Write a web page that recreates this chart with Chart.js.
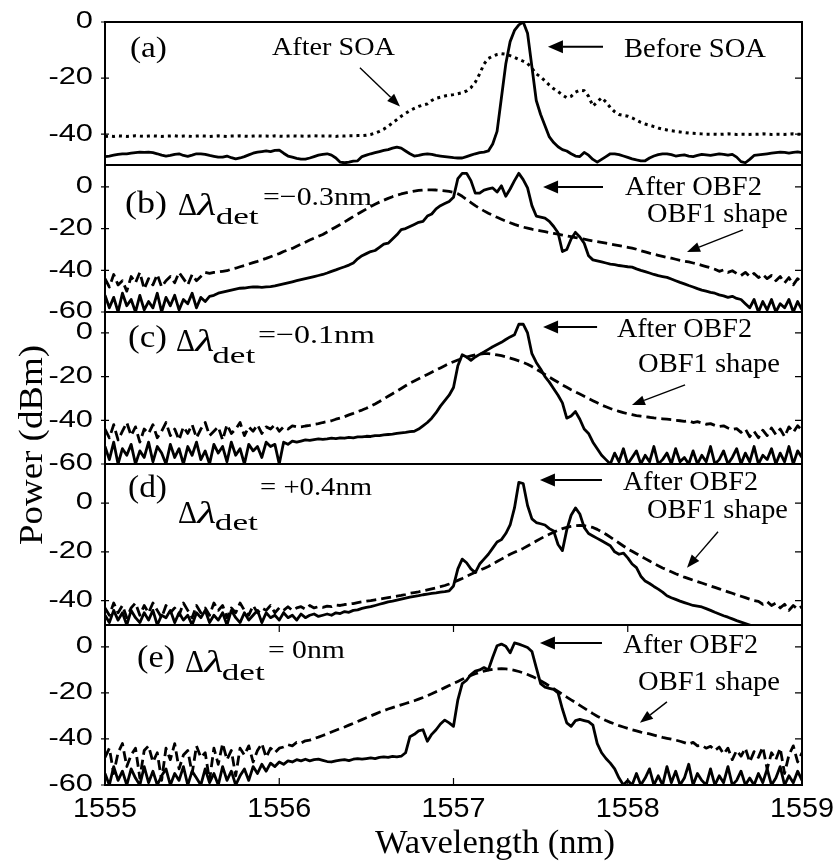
<!DOCTYPE html>
<html>
<head>
<meta charset="utf-8">
<title>Spectra after OBF2</title>
<script src="https://cdn.jsdelivr.net/npm/chart.js@4.4.1/dist/chart.umd.min.js"></script>
<style>
  html, body { margin: 0; padding: 0; background: #fff; }
</style>
</head>
<body>
<canvas id="spectra" width="837" height="863"></canvas>
<script>
// wavelength samples, 0.025 nm apart (1555 .. 1559 nm)
const wavelength = [];
for (let i = 0; i <= 160; i++) wavelength.push(+(1555 + i * 0.025).toFixed(3));

// (a) before / after SOA
const beforeSOA = [
  -48, -47.8, -47.5, -47.2, -47, -47, -46.8, -46.6, -46.4, -46.5,
  -46.4, -46.6, -47, -47.5, -47.8, -47.6, -47.2, -47, -47.6, -47.9,
  -47.5, -47, -47, -47.2, -47.6, -47.9, -48.2, -48.2, -47.8, -48.4,
  -48.8, -48.5, -48, -47.4, -46.8, -46.4, -46.2, -46, -46.2, -45.8,
  -45.7, -46.8, -47.8, -48.2, -48.6, -48.9, -48.9, -48.5, -48, -47.5,
  -47.2, -47, -47.5, -48.5, -50, -50.2, -50, -49.6, -49.5, -48,
  -47.5, -47, -46.6, -46.2, -45.8, -45.5, -45, -44.6, -45, -46,
  -47, -47.8, -47.6, -47.2, -47, -47.2, -47.6, -47.8, -48, -48.2,
  -48.4, -48.5, -48.5, -48, -47.5, -47, -46.6, -46.4, -46, -43.5,
  -39, -27, -15, -7, -3, -1, 0, -4, -16, -28,
  -33, -37, -41, -43, -44.5, -45.5, -46, -47, -47.8, -48,
  -46.5, -47.5, -49, -50, -49, -48, -47, -47, -47.3, -47.8,
  -48.3, -48.8, -49.2, -49.5, -49.5, -48.5, -47.8, -47.3, -47, -47,
  -47.3, -47.8, -47.6, -47.4, -47.8, -48, -47.6, -47.2, -47.4, -47.6,
  -47.3, -47, -47.2, -47.5, -47.2, -48.2, -49.8, -50.2, -49, -47.6,
  -47.4, -47.2, -47, -46.8, -46.6, -46.4, -46.5, -46.8, -46.5, -46.3, -46.6
];
const afterSOA = [
  -40.8, -40.7, -40.8, -40.6, -40.7, -40.8, -40.7, -40.6, -40.7, -40.8,
  -40.7, -40.6, -40.7, -40.8, -40.7, -40.7, -40.6, -40.8, -40.7, -40.7,
  -40.8, -40.7, -40.6, -40.7, -40.8, -40.7, -40.6, -40.7, -40.8, -40.7,
  -40.7, -40.6, -40.7, -40.8, -40.7, -40.6, -40.7, -40.7, -40.8, -40.6,
  -40.7, -40.8, -40.7, -40.6, -40.7, -40.7, -40.8, -40.7, -40.6, -40.7,
  -40.7, -40.6, -40.7, -40.8, -40.6, -40.7, -40.6, -40.6, -40.5, -40.5,
  -40.4, -40.1, -39.6, -39, -38.2, -37.2, -36, -34.8, -33.6, -32.6,
  -31.6, -30.8, -30.1, -29.6, -29.2, -28, -27.2, -26.8, -26.4, -26.1,
  -25.9, -25.6, -25.2, -24.6, -23.4, -21.5, -18.5, -15, -13, -12.2,
  -11.6, -11.3, -11.5, -12, -12.6, -13.3, -14, -14.8, -16.5, -18.5,
  -19.6, -21, -22.5, -23.8, -24.8, -26, -27, -26.5, -25, -24.3,
  -24.5, -26.5, -30, -28.5, -27, -28.5, -30.5, -32, -33, -33.3,
  -33.6, -34.2, -35, -35.8, -36.4, -36.8, -37.3, -37.8, -38.2, -38.5,
  -38.8, -39, -39.2, -39.4, -39.6, -39.7, -39.8, -39.9, -40, -40,
  -40, -40.1, -40, -39.9, -40, -40.1, -40, -40, -40.1, -40,
  -40, -39.9, -40, -40.1, -40, -40, -40.1, -40, -39.9, -40, -40
];

// (b) detuning -0.3 nm
const obf2B = [
  -52, -58, -53, -60, -51, -57, -54, -60, -52, -59,
  -55, -58, -51, -60, -53, -57, -52, -59, -54, -56,
  -51, -58, -53, -55, -52.5, -52, -51, -50.5, -50, -49.5,
  -49, -48.6, -48.5, -48.2, -48, -48, -48.2, -48, -47.8, -47.5,
  -47, -46.5, -46, -45.5, -45, -44.5, -44, -43.5, -43, -42.5,
  -42, -41.3, -40.5, -39.8, -39, -38.3, -37.5, -36.5, -34.5, -33,
  -32, -31, -30.5, -29, -27.5, -27, -25, -23, -20.5, -20,
  -19, -18, -17, -16.5, -14, -13, -10.5, -9, -8, -7,
  -5, 4, 6.5, 6.5, 3, -3, -3, -1.5, -1, -0.5,
  -2.5, 0.5, -4.5, -1, 3, 6.5, 3.5, -0.5, -9, -14,
  -14.5, -15, -16.5, -19, -22, -31, -30, -25, -21.8, -24,
  -27, -33, -35, -35.5, -36, -36.5, -37, -37.3, -37.7, -38,
  -38.3, -38.5, -39.3, -40, -40.6, -41.3, -42, -42.6, -43, -43.4,
  -44.2, -45, -45.8, -46.5, -47.3, -48, -48.8, -49.5, -50, -50.6,
  -51, -51.8, -52.3, -53, -52.5, -53.5, -54, -56, -58, -54,
  -60, -55, -59, -54, -60, -56, -58, -54, -60, -55, -59
];
const obf1B = [
  -44, -48, -42, -47, -45, -50, -43, -46, -41, -49,
  -44, -47, -42, -48, -45, -43, -46, -41, -44, -47,
  -42, -45, -43, -41, -41.5, -41, -40.8, -40.5, -40.2, -39.5,
  -39, -38.3, -37.7, -37, -36.3, -35.7, -35, -34.3, -33.5, -32.7,
  -32, -31, -30.2, -29.5, -28.5, -27.5, -26.5, -25.5, -24.6, -23.7,
  -22.8, -21.6, -20.4, -19.2, -18, -16.8, -15.5, -14.2, -13, -11.8,
  -10.6, -9.4, -8.3, -7.3, -6.4, -5.5, -4.7, -4, -3.4, -2.9,
  -2.4, -2, -1.7, -1.5, -1.4, -1.4, -1.5, -1.7, -1.9, -2.2,
  -2.6, -3.3, -4.5, -6, -7.5, -9, -10.3, -11.5, -12.6, -13.6,
  -14.6, -15.5, -16.4, -17.2, -18, -18.7, -19.3, -19.8, -20.3, -20.7,
  -21.1, -21.5, -21.9, -22.3, -22.7, -23.1, -23.5, -23.9, -24.3, -24.7,
  -25.1, -25.5, -25.9, -26.3, -26.6, -27, -27.4, -27.8, -28.2, -28.6,
  -29, -29.4, -29.9, -30.6, -31.2, -31.8, -32.3, -32.8, -33.3, -33.8,
  -34.2, -34.7, -35.2, -35.6, -36, -36.5, -37, -37.6, -38.2, -38.8,
  -39.5, -40.5, -39.8, -41, -40.2, -41.5, -42.5, -41, -43, -41.5,
  -43.5, -42, -44, -42.5, -45, -43, -46, -43.5, -47, -44, -46
];

// (c) detuning -0.1 nm
const obf2C = [
  -52, -58, -50, -60, -53, -56, -51, -60, -54, -57,
  -50, -59, -52, -55, -60, -51, -57, -53, -60, -52,
  -56, -50, -58, -54, -60, -51, -55, -52, -59, -50,
  -56, -53, -60, -51, -54, -52, -57, -50, -52, -51,
  -60, -50, -51, -49.5, -50, -49.5, -49, -49.2, -48.8, -48.5,
  -48.7, -48.5, -48.2, -48.4, -48, -48.2, -47.8, -48, -47.6, -47.6,
  -47.3, -47.4, -47, -47, -46.7, -46.5, -46.3, -46, -45.7, -45.5,
  -45.2, -45, -44, -42.5, -41, -39, -36.5, -33.5, -31, -28.5,
  -25, -15, -10, -11, -12.5, -11, -9.8, -8.7, -7.5, -6.3,
  -5.3, -4.3, -3, -1.8, -0.8, 4, 4, 0, -9.5, -13.5,
  -16.5, -20, -22.5, -25.5, -28.5, -32, -39, -38, -36, -39.5,
  -44, -46, -50, -53, -56, -58, -60, -55, -59, -53,
  -60, -57, -54, -60, -56, -59, -52, -60, -58, -55,
  -60, -53, -59, -57, -60, -54, -60, -56, -59, -52,
  -60, -58, -54, -60, -57, -53, -60, -55, -59, -52,
  -60, -56, -58, -53, -60, -55, -59, -52, -60, -54, -57
];
const obf1C = [
  -44, -48, -42, -49, -45, -41, -47, -43, -50, -44,
  -46, -42, -48, -45, -41, -47, -44, -49, -43, -46,
  -42, -48, -44, -41, -47, -45, -43, -49, -42, -46,
  -44, -41, -47, -43, -45, -42, -46, -43, -44, -42,
  -45, -43, -44, -42.5, -43, -43, -42.6, -42.3, -41.8, -41.5,
  -41, -40.6, -40.2, -39.5, -39, -38.3, -37.5, -36.8, -36, -35.3,
  -34.5, -33.5, -32.5, -31.4, -30.2, -29, -27.8, -26.6, -25.4, -24.2,
  -23, -22, -21, -20, -19, -18, -17, -16, -15, -14,
  -13.2, -12.4, -11.7, -11, -10.5, -10, -9.7, -9.5, -9.5, -9.7,
  -10, -10.4, -10.9, -11.5, -12.1, -12.8, -13.5, -14.3, -15.4, -16.6,
  -17.8, -19, -20.2, -21.4, -22.6, -23.8, -24.9, -26, -27, -28,
  -29, -30, -31, -32, -33, -33.8, -34.6, -35.3, -35.9, -36.5,
  -37, -37.4, -37.8, -38.1, -38.4, -38.6, -38.9, -39.1, -39.3, -39.5,
  -39.7, -40, -40.2, -40.5, -40.2, -41, -40.6, -41.2, -41.8, -41.5,
  -42.3, -42.8, -42.5, -43.5, -44.2, -43.8, -45.5, -44, -47.5, -45,
  -48, -44.5, -47, -43.5, -46.5, -44, -47.5, -43, -45.5, -42.5, -44.5
];

// (d) detuning +0.4 nm
const obf2D = [
  -46, -49, -44, -48, -45, -50, -44, -47, -49, -45,
  -48, -44, -50, -46, -47, -44, -49, -45, -48, -46,
  -50, -45, -47, -44, -49, -46, -48, -45, -50, -44,
  -47, -49, -45, -48, -46, -44, -49, -45, -47, -46,
  -48, -45, -47, -46, -48, -45.5, -47, -46, -45.5, -46.5,
  -46, -45.5, -46, -45, -45.3, -44.5, -44.8, -44, -43.8, -43.2,
  -42.8, -42.5, -42, -41.5, -41, -40.5, -40.2, -39.8, -39.4, -39,
  -38.6, -38.3, -38, -37.6, -37.3, -37, -36.8, -36.5, -36.3, -36,
  -34, -27, -23, -24.5, -27, -28.5, -25, -23, -21, -18.5,
  -16, -15, -12.5, -9, -2, 8.5, 8, -1, -6.5, -8,
  -8.5, -9, -10.5, -11.5, -17, -19.5, -11, -5, -2, -4.5,
  -10, -12.5, -13.5, -14.5, -15.5, -16.5, -17.5, -20, -21, -20.5,
  -22.5, -25, -26.5, -30, -32, -33, -34.2, -35.3, -36.5, -38,
  -38.8, -39.5, -40.2, -40.8, -41.4, -42, -42.3, -42.6, -43.3, -44,
  -44.8, -45.5, -46.2, -46.8, -47.5, -48.2, -48.8, -49.4, -50, -51,
  -52, -53, -54, -55, -56, -57, -58, -59, -60, -60, -60
];
const obf1D = [
  -43, -46, -41, -45, -42, -47, -43, -41, -46, -42,
  -45, -41, -44, -47, -42, -45, -43, -46, -41, -44,
  -47, -42, -45, -43, -46, -41, -44, -42, -47, -43,
  -45, -41, -44, -46, -42, -45, -43, -44, -42, -45,
  -43, -44, -42.5, -44, -43, -42.5, -43.5, -42, -43, -42.5,
  -42.8, -42.3, -42.5, -41.8, -42, -41.6, -41.4, -41.2, -40.8, -40.5,
  -40.2, -40, -39.7, -39.4, -39.1, -38.8, -38.5, -38.2, -37.9, -37.5,
  -37, -36.7, -36.4, -36, -35.6, -35.2, -34.8, -34.3, -33.8, -33.2,
  -32.5, -31.7, -30.9, -30, -29.2, -28.4, -27.6, -26.8, -26, -25,
  -24, -23, -22, -21, -20.2, -19.4, -18.6, -17.6, -16.6, -15.6,
  -14.6, -13.6, -12.8, -12, -11.2, -10.5, -10, -9.6, -9.3, -9.2,
  -9.3, -9.6, -10, -10.8, -11.8, -12.8, -14, -15.2, -16.4, -17.6,
  -18.8, -19.8, -20.8, -21.8, -22.8, -23.8, -24.8, -25.7, -26.6, -27.4,
  -28.2, -29, -29.7, -30.4, -31, -31.6, -32.2, -32.8, -33.4, -34,
  -34.6, -35.2, -35.8, -36.4, -37, -37.6, -38.2, -38.8, -39.4, -40,
  -40.3, -41.5, -40.4, -42, -41, -43, -41.5, -44, -42, -43.5, -42.4
];

// (e) detuning 0 nm
const obf2E = [
  -55, -60, -52, -58, -54, -60, -53, -57, -60, -52,
  -59, -54, -60, -56, -53, -60, -55, -58, -52, -60,
  -54, -57, -60, -53, -59, -55, -60, -52, -58, -54,
  -60, -56, -53, -58, -52, -55, -51, -54, -50.5, -52,
  -50, -51, -49.5, -50, -49, -49.5, -48.8, -49.5, -49, -48.8,
  -49.3, -49.8, -50, -49.5, -49.2, -49, -49.4, -48.8, -48.5, -48.8,
  -48.5, -48.2, -48.5, -48, -47.8, -48, -47.6, -47.8, -47.5, -46,
  -39, -38, -36.5, -36, -41, -38, -36, -33.5, -31.8, -33,
  -34.5, -23, -16, -14.5, -12, -10.5, -10, -9, -10, -4.5,
  0.5, 1.2, 0.3, -2.6, 1.7, 1.2, 0.5, -0.3, -2, -9,
  -16, -17.5, -18, -18.5, -20, -27, -33, -34.5, -32, -31.5,
  -32, -32.5, -34, -42, -46, -48.5, -50.5, -53, -57, -60,
  -58, -60, -55, -60, -57, -53, -60, -56, -60, -52,
  -59, -54, -60, -57, -51, -60, -55, -58, -60, -53,
  -60, -56, -59, -52, -60, -58, -54, -60, -57, -60,
  -55, -59, -53, -60, -57, -52, -60, -56, -59, -54, -58
];
const obf1E = [
  -48, -44, -55, -46, -42, -52, -47, -44, -57, -45,
  -43, -50, -46, -58, -44, -49, -42, -53, -47, -45,
  -55, -43, -48, -46, -58, -44, -51, -42, -49, -45,
  -56, -44, -47, -43, -50, -45, -42, -48, -44, -46,
  -44, -43.5, -42.5, -43, -41.5, -41.8, -40.8, -40.5, -39.8, -39.2,
  -38.5, -37.8, -37, -36.2, -35.5, -34.8, -34, -33.2, -32.4, -31.6,
  -30.8, -30, -29.2, -28.4, -27.7, -27, -26.4, -25.8, -25.2, -24.6,
  -24, -23.4, -22.7, -22, -21.2, -20.4, -19.5, -18.6, -17.7, -16.8,
  -15.9, -15, -14.1, -13.2, -12.4, -11.7, -11, -10.5, -10.1, -9.8,
  -9.6, -9.5, -9.6, -9.8, -10.2, -10.7, -11.3, -12, -12.8, -13.7,
  -14.7, -15.8, -17, -18.2, -19.4, -20.6, -21.8, -23, -24.2, -25.4,
  -26.6, -27.8, -29, -30.1, -31.1, -32, -32.8, -33.5, -34.2, -34.8,
  -35.4, -36, -36.5, -37, -37.4, -37.8, -38.3, -38.8, -39.3, -39.7,
  -40.1, -40.5, -41, -41.6, -42.2, -41.5, -43, -42.8, -44, -43.2,
  -45, -43.5, -46.5, -44, -49, -45, -47.5, -44, -50, -45.5,
  -48, -43.5, -53, -46, -49, -44, -55, -47, -43, -50, -46
];

// panels, top to bottom
const panelIds = ['yA', 'yB', 'yC', 'yD', 'yE'];
const panelMin = [-51, -60, -60, -50, -60];
const panelMax = [0, 10.5, 9.6, 16, 9.5];
const panelWeight = [143, 147, 152, 161, 160];
const yTickValues = [0, -20, -40, -60];
const xTickValues = [1555, 1556, 1557, 1558, 1559];

// text notes: panel, text, wavelength, dB, font, target width
const notes = [
  [0, '(a)', 1555.143, -12.4, '30px', 37],
  [0, 'After SOA', 1555.958, -11.7, '26px', 123],
  [0, 'Before SOA', 1557.978, -12.4, '27px', 142],
  [1, '(b)', 1555.115, -12.5, '32px', 42],
  [1, 'Δ', 1555.419, -13.5, '32px', 19],
  [1, 'λ', 1555.53, -13.5, 'italic 32px', 19],
  [1, 'det', 1555.635, -17.8, '24px', 43],
  [1, '=\u22120.3nm', 1555.907, -8.6, '26px', 109],
  [1, 'After OBF2', 1557.984, -3.8, '27px', 137],
  [1, 'OBF1 shape', 1558.11, -16.8, '27px', 141],
  [2, '(c)', 1555.132, -6.4, '32px', 39],
  [2, 'Δ', 1555.407, -8.2, '32px', 19],
  [2, 'λ', 1555.518, -8.2, 'italic 32px', 19],
  [2, 'det', 1555.615, -13.7, '24px', 43],
  [2, '=\u22120.1nm', 1555.878, -4.6, '26px', 117],
  [2, 'After OBF2', 1557.938, -1.8, '27px', 135],
  [2, 'OBF1 shape', 1558.059, -17.9, '27px', 142],
  [3, '(d)', 1555.132, 2.4, '32px', 39],
  [3, 'Δ', 1555.419, -8.2, '32px', 19],
  [3, 'λ', 1555.53, -8.2, 'italic 32px', 19],
  [3, 'det', 1555.63, -11.2, '24px', 43],
  [3, '= +0.4nm', 1555.89, 3.3, '26px', 112],
  [3, 'After OBF2', 1557.973, 5.3, '27px', 135],
  [3, 'OBF1 shape', 1558.11, -6.1, '27px', 141],
  [4, '(e)', 1555.184, -8.7, '32px', 38],
  [4, 'Δ', 1555.459, -10.9, '32px', 19],
  [4, 'λ', 1555.57, -10.9, 'italic 32px', 19],
  [4, 'det', 1555.67, -14.6, '24px', 43],
  [4, '= 0nm', 1555.935, -4.8, '26px', 77],
  [4, 'After OBF2', 1557.973, -2.6, '27px', 135],
  [4, 'OBF1 shape', 1558.059, -18.7, '27px', 142]
];
// arrows: panel, from (nm, dB), to (nm, dB), long = heavy horizontal arrow
const arrows = [
  [0, 1556.463, -16.3, 1556.693, -30.1, false],
  [0, 1557.858, -8.8, 1557.542, -8.8, true],
  [1, 1557.858, 0, 1557.514, 0, true],
  [1, 1558.661, -20.6, 1558.34, -31.2, false],
  [2, 1557.824, 2.7, 1557.514, 2.7, true],
  [2, 1558.329, -23.8, 1558.024, -33, false],
  [3, 1557.852, 9.4, 1557.496, 9.4, true],
  [3, 1558.518, -11.8, 1558.34, -26.5, false],
  [4, 1557.852, 1.7, 1557.496, 1.7, true],
  [4, 1558.225, -23.9, 1558.07, -33, false]
];

function pts(values) {
    return wavelength.map((x, i) => ({ x: x, y: values[i] }));
}

function drawText(ctx, text, x, y, font, sx, align, baseline) {
    ctx.save();
    ctx.font = font;
    ctx.textAlign = align || 'left';
    ctx.textBaseline = baseline || 'alphabetic';
    ctx.translate(x, y);
    ctx.scale(sx, 1);
    ctx.fillText(text, 0, 0);
    ctx.restore();
}

function fitText(ctx, text, x, y, font, width, align) {
    ctx.font = font;
    const w = ctx.measureText(text).width;
    drawText(ctx, text, x, y, font, width / w, align);
}

function arrow(ctx, x1, y1, x2, y2, lw, head, half) {
    const a = Math.atan2(y2 - y1, x2 - x1);
    const bx = x2 - head * Math.cos(a), by = y2 - head * Math.sin(a);
    ctx.lineWidth = lw;
    ctx.beginPath();
    ctx.moveTo(x1, y1);
    ctx.lineTo(bx, by);
    ctx.stroke();
    ctx.beginPath();
    ctx.moveTo(x2, y2);
    ctx.lineTo(bx + half * Math.sin(a), by - half * Math.cos(a));
    ctx.lineTo(bx - half * Math.sin(a), by + half * Math.cos(a));
    ctx.closePath();
    ctx.fill();
}

// keep each trace inside its own panel
const panelClip = {
    id: 'panelClip',
    beforeDatasetDraw(chart, args) {
        const ys = args.meta.yScale, ca = chart.chartArea;
        chart.ctx.save();
        chart.ctx.beginPath();
        chart.ctx.rect(ca.left, ys.top, ca.right - ca.left, ys.bottom - ys.top);
        chart.ctx.clip();
    },
    afterDatasetDraw(chart) {
        chart.ctx.restore();
    }
};

const decor = {
    id: 'decor',
    afterDraw(chart) {
        const ctx = chart.ctx, ca = chart.chartArea, xs = chart.scales.x;
        const serif = '"Liberation Serif", "Times New Roman", serif';
        const sans = '"Liberation Sans", Arial, sans-serif';
        ctx.save();
        ctx.fillStyle = '#000';
        ctx.strokeStyle = '#000';

        // frame and panel borders
        ctx.lineWidth = 2;
        ctx.strokeRect(ca.left, ca.top, ca.right - ca.left, ca.bottom - ca.top);
        panelIds.forEach((id, p) => {
            const ys = chart.scales[id];
            if (p < panelIds.length - 1) {
                ctx.lineWidth = 2.2;
                ctx.beginPath();
                ctx.moveTo(ca.left, ys.bottom);
                ctx.lineTo(ca.right, ys.bottom);
                ctx.stroke();
            }
            yTickValues.forEach(v => {
                if (v < panelMin[p] || v > panelMax[p]) return;
                const y = ys.getPixelForValue(v);
                ctx.lineWidth = 1.2;
                ctx.beginPath();
                ctx.moveTo(ca.left - 4, y);
                ctx.lineTo(ca.left + 4, y);
                ctx.moveTo(ca.right, y);
                ctx.lineTo(ca.right - 7, y);
                ctx.stroke();
                drawText(ctx, String(v), ca.left - 12, y, '23px ' + sans, 1.34, 'right', 'middle');
            });
        });

        // wavelength ticks on the bottom panel
        const yE = chart.scales.yE;
        xTickValues.forEach(v => {
            const x = xs.getPixelForValue(v);
            ctx.lineWidth = 1.2;
            ctx.beginPath();
            ctx.moveTo(x, yE.top);
            ctx.lineTo(x, yE.top + 7);
            ctx.moveTo(x, ca.bottom);
            ctx.lineTo(x, ca.bottom - 7);
            ctx.stroke();
            fitText(ctx, String(v), x, ca.bottom + 32, '28px ' + sans, 64, 'center');
        });

        // axis titles
        fitText(ctx, 'Wavelength (nm)', 495, ca.bottom + 68, '34px ' + serif, 240, 'center');
        ctx.save();
        ctx.translate(42, 445);
        ctx.rotate(-Math.PI / 2);
        fitText(ctx, 'Power (dBm)', 0, 0, '34px ' + serif, 200, 'center');
        ctx.restore();

        // notes and arrows
        notes.forEach(([p, text, x, y, font, w]) => {
            const ys = chart.scales[panelIds[p]];
            fitText(ctx, text, xs.getPixelForValue(x), ys.getPixelForValue(y), font + ' ' + serif, w);
        });
        arrows.forEach(([p, x1, y1, x2, y2, long]) => {
            const ys = chart.scales[panelIds[p]];
            arrow(ctx, xs.getPixelForValue(x1), ys.getPixelForValue(y1),
                xs.getPixelForValue(x2), ys.getPixelForValue(y2),
                long ? 2 : 1.4, long ? 15 : 13, long ? 6.5 : 5);
        });
        ctx.restore();
    }
};

const solid = { borderColor: '#000', borderWidth: 2.8, pointRadius: 0, tension: 0, fill: false, borderJoinStyle: 'round' };
const dashed = Object.assign({}, solid, { borderDash: [10, 5] });
const dotted = Object.assign({}, solid, { borderWidth: 3, borderDash: [3, 4], borderJoinStyle: 'miter' });

const series = [
    [beforeSOA, 'yA', solid, 'Before SOA'],
    [afterSOA, 'yA', dotted, 'After SOA'],
    [obf2B, 'yB', solid, 'After OBF2 (b)'],
    [obf1B, 'yB', dashed, 'OBF1 shape (b)'],
    [obf2C, 'yC', solid, 'After OBF2 (c)'],
    [obf1C, 'yC', dashed, 'OBF1 shape (c)'],
    [obf2D, 'yD', solid, 'After OBF2 (d)'],
    [obf1D, 'yD', dashed, 'OBF1 shape (d)'],
    [obf2E, 'yE', solid, 'After OBF2 (e)'],
    [obf1E, 'yE', dashed, 'OBF1 shape (e)']
];

// axes: the last-defined axis of the stack ends up on top
const scales = {
    x: {
        type: 'linear', min: 1555, max: 1559,
        ticks: { display: false, stepSize: 1 },
        grid: { display: false },
        border: { display: false },
        afterFit: s => { s.height = 78; }
    }
};
for (let p = panelIds.length - 1; p >= 0; p--) {
    scales[panelIds[p]] = {
        type: 'linear', position: 'left', stack: 'panels',
        stackWeight: panelWeight[p],
        min: panelMin[p], max: panelMax[p],
        ticks: { display: false, stepSize: 20 },
        grid: { display: false },
        border: { display: false },
        afterFit: s => { s.width = 105; }
    };
}

new Chart(document.getElementById('spectra'), {
    type: 'line',
    data: {
        datasets: series.map(([values, axis, style, name]) => Object.assign({
            label: name,
            data: pts(values),
            yAxisID: axis,
            xAxisID: 'x'
        }, style))
    },
    options: {
        responsive: false,
        animation: false,
        layout: { padding: { top: 22, right: 35, left: 0, bottom: 0 } },
        plugins: { legend: { display: false }, tooltip: { enabled: false } },
        scales: scales
    },
    plugins: [panelClip, decor]
});
</script>
</body>
</html>
